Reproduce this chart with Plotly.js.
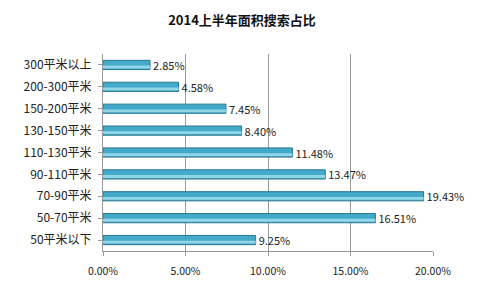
<!DOCTYPE html>
<html><head><meta charset="utf-8">
<script src="https://cdn.plot.ly/plotly-3.0.1.min.js"></script>
<style>body{margin:0;background:#fff}#c{width:484px;height:292px}</style>
</head><body><div id="c"></div>
<script>
const categories = ["50平米以下","50-70平米","70-90平米","90-110平米","110-130平米","130-150平米","150-200平米","200-300平米","300平米以上"];
const values = [0.0925,0.1651,0.1943,0.1347,0.1148,0.0840,0.0745,0.0458,0.0285];
const labels = values.map(v => (v*100).toFixed(2) + "%");
const font = "Noto Sans CJK SC, sans-serif";
const traces = [
  {type:"bar", orientation:"h", y:categories, x:values, width:0.42,
   marker:{color:"#41abc9", line:{color:"#2a7790", width:1}},
   text:labels, textposition:"outside", cliponaxis:false, constraintext:"none",
   textfont:{family:font, size:11, color:"#222"}, hoverinfo:"none"},
  {type:"bar", orientation:"h", y:categories, x:values, width:0.13, offset:-0.16,
   marker:{color:"#92d6e8"}, hoverinfo:"none"}
];
const layout = {
  width:484, height:292, margin:{l:103, r:51, t:54, b:41},
  paper_bgcolor:"#fff", plot_bgcolor:"#fff", showlegend:false, barmode:"overlay",
  title:{text:"<b>2014上半年面积搜索占比</b>", x:0.5, xanchor:"center", y:0.93, yanchor:"middle",
         font:{family:font, size:13, color:"#111"}},
  xaxis:{range:[0,0.2], dtick:0.05, tickformat:".2%", showgrid:true, gridcolor:"#9a9a9a", gridwidth:1,
         showline:true, linecolor:"#9a9a9a", ticks:"outside", ticklen:4, tickcolor:"#9a9a9a",
         ticklabelstandoff:6, zeroline:false, tickfont:{family:font, size:10.5, color:"#222"}},
  yaxis:{showline:true, linecolor:"#9a9a9a", ticks:"outside", ticklen:4, tickcolor:"#9a9a9a",
         ticklabelstandoff:4, tickfont:{family:font, size:12, color:"#222"}}
};
Plotly.newPlot("c", traces, layout, {staticPlot:true});
</script></body></html>
